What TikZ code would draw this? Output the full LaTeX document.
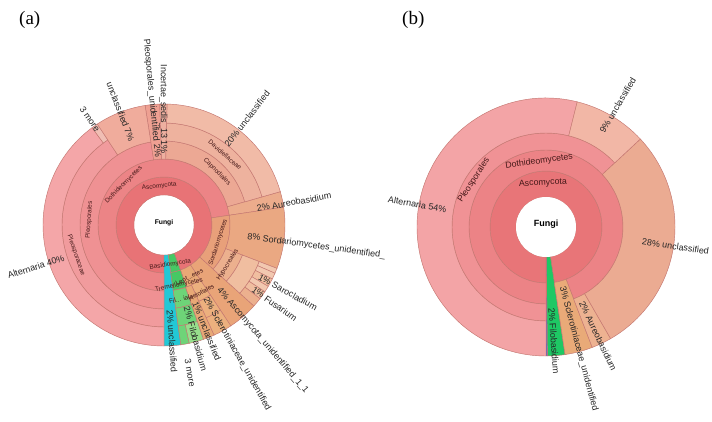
\documentclass[tikz,border=0pt]{standalone}
\usepackage{fontspec}
\setmainfont{Liberation Sans}
\newfontfamily\timesf{Liberation Serif}
\usetikzlibrary{calc}
\definecolor{edgec}{RGB}{196,118,112}
\definecolor{asA1}{RGB}{232,115,118}
\definecolor{asA2}{RGB}{236,132,134}
\definecolor{pleoA3}{RGB}{239,145,147}
\definecolor{pleoA4}{RGB}{241,155,157}
\definecolor{altA}{RGB}{244,166,168}
\definecolor{moreA}{RGB}{240,190,180}
\definecolor{unc7}{RGB}{240,172,156}
\definecolor{punid}{RGB}{238,160,146}
\definecolor{incert}{RGB}{238,176,160}
\definecolor{capA3}{RGB}{236,168,148}
\definecolor{davA4}{RGB}{238,178,158}
\definecolor{unc20}{RGB}{241,187,167}
\definecolor{aureo}{RGB}{236,172,140}
\definecolor{sorA2}{RGB}{232,160,122}
\definecolor{sordu}{RGB}{234,168,130}
\definecolor{hypo}{RGB}{236,176,142}
\definecolor{hypo2}{RGB}{240,190,160}
\definecolor{hypo3}{RGB}{242,200,176}
\definecolor{aunid}{RGB}{233,164,120}
\definecolor{leo}{RGB}{232,168,118}
\definecolor{leo2}{RGB}{236,176,126}
\definecolor{grA1}{RGB}{70,200,100}
\definecolor{grA3}{RGB}{110,212,120}
\definecolor{grA5}{RGB}{150,222,140}
\definecolor{cyanc}{RGB}{34,200,214}
\definecolor{inkred}{RGB}{70,25,25}
\definecolor{altB}{RGB}{243,164,166}
\definecolor{pleoB}{RGB}{240,146,149}
\definecolor{dothB}{RGB}{236,131,134}
\definecolor{ascB}{RGB}{232,117,120}
\definecolor{unc9}{RGB}{242,183,166}
\definecolor{unc28}{RGB}{235,171,146}
\definecolor{sclB}{RGB}{233,170,120}
\definecolor{aurB}{RGB}{237,178,145}
\definecolor{grB}{RGB}{30,200,100}
\definecolor{blueB}{RGB}{80,90,200}
\newcommand\sect[6]{\filldraw[seg,fill=#6,shift={(#1)}] ({90-(#4)}:#2pt) arc[start angle={90-(#4)},end angle={90-(#5)},radius=#2pt] -- ({90-(#5)}:#3pt) arc[start angle={90-(#5)},end angle={90-(#4)},radius=#3pt] -- cycle;}
% radial labels: name, centre, bearing, start radius, text
\newcommand\rlabR[5]{\node[olab,anchor=west,rotate={90-(#3)}] (#1) at ($(#2)+({90-(#3)}:#4pt)$) {#5};}
\newcommand\rlabL[5]{\node[olab,anchor=east,rotate={270-(#3)}] (#1) at ($(#2)+({90-(#3)}:#4pt)$) {#5};}
% tangential labels: name, centre, bearing, radius, rotation, text
\newcommand\tlab[6]{\node[ilab,rotate=#5] (#1) at ($(#2)+({90-(#3)}:#4pt)$) {#6};}
\newcommand\tlabB[6]{\node[ilabB,rotate=#5] (#1) at ($(#2)+({90-(#3)}:#4pt)$) {#6};}
\begin{document}
\begin{tikzpicture}[x=1pt,y=1pt,
  seg/.style={draw=edgec,line width=0.45pt},
  olab/.style={font=\fontsize{9}{10}\selectfont,text=black!85,inner sep=0pt},
  ilab/.style={font=\fontsize{6.4}{7}\selectfont,text=inkred,inner sep=0pt},
  ilabB/.style={font=\fontsize{8.8}{9}\selectfont,text=inkred,inner sep=0pt},
  panel/.style={font=\timesf\fontsize{19}{20}\selectfont,inner sep=0pt,anchor=north west}]
\useasboundingbox (0,0) rectangle (712,421);
\fill[white] (0,0) rectangle (712,421);
\coordinate (A) at (164,196);
\coordinate (B) at (546,194);
\node[panel] (pa) at (19,410) {(a)};
\node[panel] (pb) at (402,410) {(b)};
% ===== chart (a) =====
% ring 1
\sect{A}{30}{48}{180}{520}{asA1}
\sect{A}{30}{48}{160}{172}{grA1}
\sect{A}{30}{121}{172}{180}{cyanc}
% ring 2
\sect{A}{48}{66}{180}{441.5}{asA2}
\sect{A}{48}{66}{81.5}{132}{sorA2}
\sect{A}{48}{121}{132}{146.5}{aunid}
\sect{A}{48}{66}{146.5}{160}{leo}
\sect{A}{48}{66}{160}{172}{grA1}
% ring 3
\sect{A}{66}{84}{180}{351}{pleoA3}
\sect{A}{66}{121}{351}{358}{punid}
\sect{A}{66}{121}{358}{361.5}{incert}
\sect{A}{66}{84}{361.5}{434}{capA3}
\sect{A}{66}{121}{74}{81.5}{aureo}
\sect{A}{66}{121}{81.5}{111}{sordu}
\sect{A}{66}{84}{111}{132}{hypo}
\sect{A}{66}{84}{146.5}{155.5}{leo2}
\sect{A}{66}{121}{155.5}{161}{leo}
\sect{A}{66}{84}{161}{172}{grA3}
% ring 4
\sect{A}{84}{102}{180}{326.5}{pleoA4}
\sect{A}{84}{121}{326.5}{351}{unc7}
\sect{A}{84}{102}{361.5}{434}{davA4}
\sect{A}{84}{102}{111}{132}{hypo2}
\sect{A}{84}{102}{146.5}{155.5}{leo2}
\sect{A}{84}{102}{161}{172}{grA3}
% ring 5
\sect{A}{102}{121}{180}{323.5}{altA}
\sect{A}{102}{121}{323.5}{326.5}{moreA}
\sect{A}{102}{121}{361.5}{434}{unc20}
\sect{A}{102}{121}{111}{113.5}{hypo3}
\sect{A}{102}{121}{113.5}{116.5}{hypo3}
\sect{A}{102}{121}{116.5}{120.5}{hypo2}
\sect{A}{102}{121}{120.5}{123.5}{hypo3}
\sect{A}{102}{121}{123.5}{127.5}{hypo2}
\sect{A}{102}{121}{127.5}{132}{hypo}
\sect{A}{102}{121}{146.5}{155.5}{leo2}
\sect{A}{102}{121}{161}{168}{grA5}
\sect{A}{102}{121}{168}{172}{grA3}
\fill[white] (A) circle[radius=29.5pt];
% labels (a)
\node[ilab,font=\bfseries\fontsize{6.8}{7}\selectfont,text=black] (fa) at (164,198) {Fungi};
\tlab{la1}{A}{-7}{39}{7}{Ascomycota}
\tlab{la2}{A}{-45}{57}{45}{Dothideomycetes}
\tlab{la3}{A}{-86}{75}{86}{Pleosporales}
\tlab{la4}{A}{251}{93}{-71}{Pleosporaceae}
\tlab{la5}{A}{45}{75}{-45}{Capnodiales}
\tlab{la6}{A}{41}{93}{-41}{Davidiellaceae}
\tlab{la7}{A}{108}{57}{72}{Sordariomycetes}
\tlab{la8}{A}{122}{75}{58}{Hypocreales}
\tlab{la9}{A}{171}{40}{9}{Basidiomycota}
\tlab{la10}{A}{154}{58}{26}{Leot...etes}
\tlab{la11}{A}{166}{62}{12}{Tremellomycetes}
\tlab{la12}{A}{167}{76}{12}{Fil... iale}
\tlab{la13}{A}{151}{77}{29}{Helotiales}
\rlabL{oa1}{A}{252}{105}{Alternaria 40\%}
\rlabL{oa2}{A}{325}{115}{3 more}
\rlabL{oa3}{A}{339}{90}{unclassified 7\%}
\rlabL{oa4}{A}{354.5}{68}{Pleosporales\_unidentified 2\%}
\rlabL{oa5}{A}{359.7}{71}{Incertae\_sedis\_13 1\%}
\rlabR{oa6}{A}{38}{101}{20\% unclassified}
\rlabR{oa7}{A}{80}{94}{2\% Aureobasidium}
\rlabR{oa8}{A}{98}{84}{8\% Sordariomycetes\_unidentified\_}
\rlabR{oa9}{A}{118.5}{108}{1\% Sarocladium}
\rlabR{oa10}{A}{125.5}{109}{1\% Fusarium}
\rlabR{oa11}{A}{139.5}{84}{4\% Ascomycota\_unidentified\_1\_1}
\rlabR{oa12}{A}{150.5}{84}{2\% Sclerotiniaceae\_unidentified}
\rlabR{oa13}{A}{158}{83}{1\% unclassified}
\rlabR{oa14}{A}{164.5}{85}{2\% Filobasidium}
\rlabR{oa15}{A}{170}{136}{3 more}
\rlabR{oa16}{A}{176}{85}{2\% unclassified}
% ===== chart (b) =====
\sect{B}{30}{56}{180}{531.5}{ascB}
\sect{B}{30}{129}{171.5}{179.4}{grB}
\sect{B}{30}{129}{179.4}{180}{blueB}
\sect{B}{56}{77}{180}{519}{dothB}
\sect{B}{56}{129}{159}{171.5}{sclB}
\sect{B}{77}{94}{180}{407}{pleoB}
\sect{B}{77}{129}{407}{510}{unc28}
\sect{B}{77}{129}{150}{159}{aurB}
\sect{B}{94}{129}{180}{374}{altB}
\sect{B}{94}{129}{374}{407}{unc9}
\fill[white] (B) circle[radius=30pt];
\node[ilabB,font=\bfseries\fontsize{9}{10}\selectfont,text=black] (fb) at (546,197) {Fungi};
\tlabB{lb1}{B}{-4}{44}{3}{Ascomycota}
\tlabB{lb2}{B}{-6}{66}{8}{Dothideomycetes}
\tlabB{lb3}{B}{303}{86}{57}{Pleosporales}
\rlabL{ob1}{B}{280}{101}{Alternaria 54\%}
\rlabR{ob2}{B}{30.5}{110}{9\% unclassified}
\rlabR{ob3}{B}{98.5}{97}{28\% unclassified}
\rlabR{ob4}{B}{154.5}{83}{2\% Aureobasidium}
\rlabR{ob5}{B}{165}{62}{3\% Sclerotiniaceae\_unidentified}
\rlabR{ob6}{B}{176}{81}{2\% Filobasidium}
\end{tikzpicture}
\end{document}
